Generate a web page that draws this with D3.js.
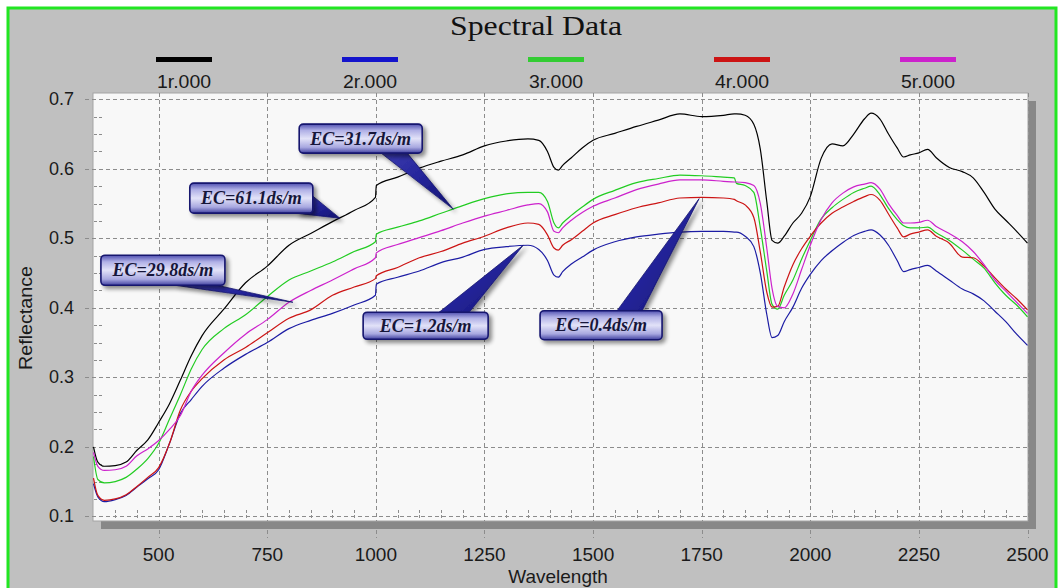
<!DOCTYPE html>
<html>
<head>
<meta charset="utf-8">
<script src="https://cdn.jsdelivr.net/npm/d3@7"></script>
<style>
body { margin: 0; background: #fff; }
svg { display: block; }
.lbl { font-family: "Liberation Sans", Arial, sans-serif; font-size: 19px; fill: #1a1a1a; }
.ylbl { font-size: 18px; }
.grid { stroke: #8c8c8c; stroke-width: 1; stroke-dasharray: 4,3; fill: none; }
.callout-text { font-family: "Liberation Serif", "Times New Roman", serif; font-style: italic; font-weight: bold; font-size: 18px; fill: #16163a; }
</style>
</head>
<body>
<svg id="chart" width="1059" height="588"></svg>
<script>
var wavelengths = [350, 360, 375, 400, 425, 450, 475, 500, 525, 550, 575, 600, 650, 700, 750, 800,
  850, 900, 950, 999, 1001, 1050, 1100, 1150, 1200, 1250, 1300, 1350, 1375, 1395, 1410, 1420,
  1430, 1450, 1475, 1500, 1550, 1600, 1650, 1700, 1750, 1800, 1825, 1830, 1850, 1870, 1885, 1900,
  1912, 1925, 1940, 1960, 1980, 2000, 2025, 2050, 2075, 2100, 2125, 2140, 2160, 2180, 2200, 2215,
  2230, 2250, 2270, 2290, 2320, 2350, 2375, 2400, 2425, 2450, 2475, 2500];

var r1 = [0.200, 0.178, 0.172, 0.173, 0.178, 0.195, 0.210, 0.235, 0.262, 0.296, 0.331, 0.360, 0.398, 0.436, 0.460, 0.490,
  0.507, 0.524, 0.540, 0.559, 0.576, 0.588, 0.601, 0.611, 0.620, 0.633, 0.640, 0.643, 0.641, 0.625, 0.602, 0.598,
  0.605, 0.616, 0.630, 0.641, 0.651, 0.661, 0.670, 0.679, 0.675, 0.677, 0.679, 0.679, 0.677, 0.664, 0.628, 0.552,
  0.497, 0.493, 0.503, 0.522, 0.536, 0.560, 0.615, 0.636, 0.633, 0.650, 0.672, 0.680, 0.672, 0.650, 0.630, 0.617,
  0.620, 0.623, 0.628, 0.616, 0.602, 0.596, 0.587, 0.566, 0.542, 0.526, 0.510, 0.493];

var r2 = [0.147, 0.128, 0.121, 0.124, 0.130, 0.142, 0.154, 0.167, 0.205, 0.248, 0.268, 0.287, 0.313, 0.333, 0.350, 0.370,
  0.382, 0.392, 0.404, 0.418, 0.434, 0.444, 0.453, 0.465, 0.473, 0.484, 0.488, 0.490, 0.484, 0.468, 0.447, 0.444,
  0.452, 0.463, 0.473, 0.483, 0.495, 0.502, 0.506, 0.509, 0.510, 0.510, 0.509, 0.509, 0.503, 0.488, 0.450, 0.390,
  0.357, 0.360, 0.380, 0.401, 0.428, 0.448, 0.468, 0.482, 0.494, 0.504, 0.510, 0.512, 0.505, 0.490, 0.468, 0.452,
  0.455, 0.458, 0.461, 0.453, 0.440, 0.427, 0.420, 0.410, 0.395, 0.380, 0.362, 0.346];

var r3 = [0.186, 0.153, 0.148, 0.150, 0.156, 0.168, 0.183, 0.205, 0.240, 0.275, 0.312, 0.340, 0.370, 0.390, 0.416, 0.440,
  0.453, 0.466, 0.481, 0.495, 0.506, 0.516, 0.525, 0.536, 0.547, 0.557, 0.564, 0.566, 0.566, 0.553, 0.522, 0.515,
  0.522, 0.533, 0.545, 0.556, 0.569, 0.580, 0.586, 0.591, 0.590, 0.588, 0.587, 0.579, 0.576, 0.566, 0.515, 0.452,
  0.405, 0.398, 0.418, 0.440, 0.470, 0.497, 0.528, 0.544, 0.556, 0.566, 0.572, 0.575, 0.563, 0.543, 0.527, 0.518,
  0.515, 0.515, 0.516, 0.508, 0.497, 0.483, 0.470, 0.457, 0.436, 0.418, 0.404, 0.387];

var r4 = [0.155, 0.130, 0.123, 0.125, 0.131, 0.143, 0.156, 0.170, 0.205, 0.253, 0.280, 0.298, 0.325, 0.343, 0.364, 0.385,
  0.397, 0.418, 0.430, 0.442, 0.446, 0.458, 0.472, 0.481, 0.493, 0.503, 0.515, 0.522, 0.520, 0.505, 0.486, 0.483,
  0.490, 0.498, 0.510, 0.522, 0.534, 0.544, 0.551, 0.558, 0.559, 0.558, 0.556, 0.554, 0.548, 0.530, 0.480, 0.422,
  0.401, 0.402, 0.430, 0.462, 0.485, 0.503, 0.522, 0.536, 0.545, 0.553, 0.560, 0.563, 0.555, 0.535, 0.515, 0.502,
  0.506, 0.509, 0.512, 0.503, 0.493, 0.473, 0.472, 0.460, 0.443, 0.427, 0.413, 0.397];

var r5 = [0.192, 0.172, 0.166, 0.167, 0.172, 0.187, 0.197, 0.209, 0.225, 0.245, 0.280, 0.303, 0.335, 0.362, 0.383, 0.408,
  0.425, 0.440, 0.456, 0.472, 0.479, 0.491, 0.501, 0.511, 0.522, 0.532, 0.540, 0.548, 0.550, 0.538, 0.510, 0.508,
  0.515, 0.526, 0.537, 0.546, 0.558, 0.570, 0.578, 0.584, 0.584, 0.582, 0.581, 0.581, 0.580, 0.576, 0.550, 0.485,
  0.428, 0.402, 0.400, 0.420, 0.455, 0.490, 0.527, 0.551, 0.565, 0.574, 0.578, 0.580, 0.571, 0.550, 0.533, 0.522,
  0.522, 0.523, 0.526, 0.517, 0.507, 0.495, 0.481, 0.462, 0.440, 0.424, 0.408, 0.392];

var seriesNames = ["1r.000", "2r.000", "3r.000", "4r.000", "5r.000"];
var seriesValues = [r1, r2, r3, r4, r5];
var xTicks = [500, 750, 1000, 1250, 1500, 1750, 2000, 2250, 2500];
var yTicks = [0.1, 0.2, 0.3, 0.4, 0.5, 0.6, 0.7];
var yTickLabels = ["0.1", "0.2", "0.3", "0.4", "0.5", "0.6", "0.7"];

var calloutLabels = ["EC=31.7ds/m", "EC=61.1ds/m", "EC=29.8ds/m", "EC=1.2ds/m", "EC=0.4ds/m"];
var calloutWl = [1178, 917, 809, 1339, 1744];
var calloutVal = [0.542, 0.529, 0.408, 0.490, 0.557];

// styling
var lineColors = ["#000000", "#1c1ca4", "#22cc22", "#cc1414", "#cc22cc"];
var swatchColors = ["#000000", "#1414cc", "#33cc33", "#cc1414", "#cc22cc"];
var calloutLayout = [
  {dx: -154, dy: -85, w: 123, h: 29, base: [[-72, -56], [-46, -56]]},
  {dx: -150, dy: -35, w: 123, h: 30, base: [[-44, -5], [-27, -22]]},
  {dx: -192, dy: -47, w: 124, h: 30, base: [[-118, -17], [-76, -17]]},
  {dx: -160, dy: 67, w: 125, h: 27, base: [[-84, 67], [-54, 67]]},
  {dx: -159, dy: 112, w: 122, h: 29, base: [[-82, 112], [-57, 112]]}
];

var svg = d3.select("#chart");
var plot = {left: 93, top: 93, right: 1028, bottom: 521};

var x = d3.scaleLinear().domain([350, 2500]).range([93.5, 1027.5]);
var y = d3.scaleLinear().domain([0.1, 0.7]).range([516.3, 99.3]);

var defs = svg.append("defs");
var bg = defs.append("linearGradient").attr("id", "boxGrad").attr("x1", 0).attr("y1", 0).attr("x2", 0).attr("y2", 1);
[[0, "#5050b0"], [0.22, "#b0b0e6"], [0.5, "#e2e2f8"], [0.8, "#a8a8e0"], [1, "#4040a0"]].forEach(function(s) {
  bg.append("stop").attr("offset", s[0]).attr("stop-color", s[1]);
});
var wg = defs.append("linearGradient").attr("id", "wedgeGrad").attr("x1", 0).attr("y1", 0).attr("x2", 1).attr("y2", 1);
[[0, "#3c3cb0"], [0.5, "#24249a"], [1, "#12126e"]].forEach(function(s) {
  wg.append("stop").attr("offset", s[0]).attr("stop-color", s[1]);
});
var f = defs.append("filter").attr("id", "shadow").attr("x", "-20%").attr("y", "-20%").attr("width", "150%").attr("height", "160%");
f.append("feGaussianBlur").attr("in", "SourceAlpha").attr("stdDeviation", 2).attr("result", "b");
f.append("feOffset").attr("in", "b").attr("dx", 3).attr("dy", 3).attr("result", "o");
f.append("feComponentTransfer").attr("in", "o").attr("result", "s")
  .append("feFuncA").attr("type", "linear").attr("slope", 0.45);
var fm = f.append("feMerge");
fm.append("feMergeNode").attr("in", "s");
fm.append("feMergeNode").attr("in", "SourceGraphic");

// background and frame
svg.append("rect").attr("width", 1059).attr("height", 588).attr("fill", "#ffffff");
svg.append("rect").attr("x", 8).attr("y", 8).attr("width", 1048).attr("height", 590)
  .attr("fill", "#c0c0c0").attr("stroke", "#22e622").attr("stroke-width", 3);

// title
svg.append("text").attr("x", 536).attr("y", 35).attr("text-anchor", "middle")
  .attr("font-family", "'Liberation Serif', 'Times New Roman', serif").attr("font-size", 27)
  .attr("textLength", 172).attr("lengthAdjust", "spacingAndGlyphs")
  .attr("fill", "#111").text("Spectral Data");

// legend
var legend = svg.append("g").selectAll("g").data(seriesNames).enter().append("g")
  .attr("transform", function(d, i) { return "translate(" + (184 + i * 186) + ",0)"; });
legend.append("rect").attr("x", -28).attr("y", 57).attr("width", 56).attr("height", 5)
  .attr("fill", function(d, i) { return swatchColors[i]; });
legend.append("text").attr("class", "lbl").attr("y", 88).attr("text-anchor", "middle")
  .attr("textLength", 54).attr("lengthAdjust", "spacingAndGlyphs").text(function(d) { return d; });

// plot shadow and area
svg.append("rect").attr("x", plot.left + 8).attr("y", plot.top + 8)
  .attr("width", plot.right - plot.left).attr("height", plot.bottom - plot.top).attr("fill", "#888888");
svg.append("rect").attr("x", plot.left).attr("y", plot.top)
  .attr("width", plot.right - plot.left).attr("height", plot.bottom - plot.top)
  .attr("fill", "#f8f8f8").attr("stroke", "#a4a4a4").attr("stroke-width", 1);

// grid
var g = svg.append("g");
g.selectAll(".vgrid").data(xTicks).enter().append("line").attr("class", "grid")
  .attr("x1", function(d) { return Math.round(x(d)) + 0.5; }).attr("x2", function(d) { return Math.round(x(d)) + 0.5; })
  .attr("y1", plot.top).attr("y2", plot.bottom);
g.selectAll(".vext").data(xTicks).enter().append("line").attr("class", "grid")
  .attr("x1", function(d) { return Math.round(x(d)) + 0.5; }).attr("x2", function(d) { return Math.round(x(d)) + 0.5; })
  .attr("y1", plot.bottom + 9).attr("y2", plot.bottom + 17);
g.selectAll(".hgrid").data(yTicks).enter().append("line").attr("class", "grid")
  .attr("x1", 85).attr("x2", plot.right)
  .attr("y1", function(d) { return Math.round(y(d)) + 0.5; }).attr("y2", function(d) { return Math.round(y(d)) + 0.5; });

var xMinor = d3.range(400, 2500, 50).filter(function(d) { return xTicks.indexOf(d) < 0; });
g.selectAll(".xminor").data(xMinor).enter().append("line").attr("class", "grid")
  .style("stroke-dasharray", "3,2")
  .attr("x1", function(d) { return Math.round(x(d)) + 0.5; }).attr("x2", function(d) { return Math.round(x(d)) + 0.5; })
  .attr("y1", plot.bottom - 11).attr("y2", plot.bottom - 1);
var yMinor = d3.range(0.125, 0.7, 0.025).filter(function(d) { return Math.abs(d * 10 - Math.round(d * 10)) > 0.01; });
g.selectAll(".yminor").data(yMinor).enter().append("line").attr("class", "grid")
  .style("stroke-dasharray", "3,2")
  .attr("x1", plot.left + 1).attr("x2", plot.left + 9)
  .attr("y1", function(d) { return Math.round(y(d)) + 0.5; }).attr("y2", function(d) { return Math.round(y(d)) + 0.5; });

// tick labels
svg.selectAll(".xl").data(xTicks).enter().append("text").attr("class", "lbl")
  .attr("x", function(d) { return x(d); }).attr("y", 561).attr("text-anchor", "middle")
  .text(function(d) { return d; });
svg.selectAll(".yl").data(yTicks).enter().append("text").attr("class", "lbl ylbl")
  .attr("x", 74).attr("y", function(d) { return y(d) + 6; }).attr("text-anchor", "end")
  .text(function(d, i) { return yTickLabels[i]; });

svg.append("text").attr("class", "lbl").attr("x", 558).attr("y", 583).attr("text-anchor", "middle").text("Wavelength");
svg.append("text").attr("class", "lbl").attr("transform", "translate(32,318) rotate(-90)")
  .attr("text-anchor", "middle").attr("textLength", 104).attr("lengthAdjust", "spacingAndGlyphs").text("Reflectance");

// spectra
var line = d3.line()
  .x(function(d) { return x(d[0]); })
  .y(function(d) { return y(d[1]); })
  .curve(d3.curveMonotoneX);
svg.append("g").selectAll("path").data(seriesValues).enter().append("path")
  .attr("fill", "none").attr("stroke-width", 1.2)
  .attr("stroke", function(d, i) { return lineColors[i]; })
  .attr("d", function(vals) { return line(wavelengths.map(function(w, j) { return [w, vals[j]]; })); });

// callouts
var co = svg.append("g").selectAll("g").data(calloutLabels).enter().append("g");
co.each(function(label, i) {
  var gg = d3.select(this);
  var tx = x(calloutWl[i]), ty = y(calloutVal[i]);
  var L = calloutLayout[i];
  var pts = [[tx + L.base[0][0], ty + L.base[0][1]], [tx, ty], [tx + L.base[1][0], ty + L.base[1][1]]];
  gg.append("path").attr("d", "M" + pts.join("L") + "Z")
    .attr("fill", "url(#wedgeGrad)").attr("stroke", "#14146e").attr("stroke-width", 0.8)
    .attr("filter", "url(#shadow)");
  gg.append("rect").attr("x", tx + L.dx).attr("y", ty + L.dy).attr("width", L.w).attr("height", L.h)
    .attr("rx", 4).attr("fill", "url(#boxGrad)").attr("stroke", "#14146e").attr("stroke-width", 1.6)
    .attr("filter", "url(#shadow)");
  gg.append("text").attr("class", "callout-text")
    .attr("x", tx + L.dx + L.w / 2).attr("y", ty + L.dy + L.h / 2 + 6).attr("text-anchor", "middle")
    .text(label);
});
</script>
</body>
</html>
